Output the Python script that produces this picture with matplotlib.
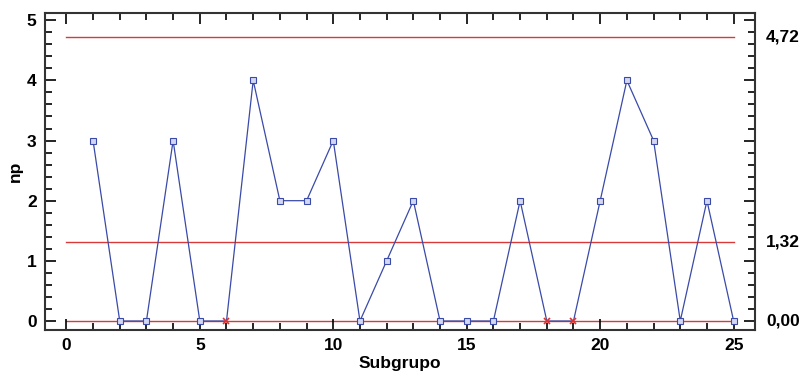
import matplotlib
matplotlib.use("Agg")
import matplotlib.pyplot as plt
from matplotlib.ticker import MultipleLocator

plt.rcParams['font.family'] = ['Liberation Sans', 'DejaVu Sans']

subgroups = list(range(1, 26))
np_values = [3, 0, 0, 3, 0, 0, 4, 2, 2, 3, 0, 1, 2, 0, 0, 0, 2, 0, 0, 2, 4, 3, 0, 2, 0]
flagged = [6, 18, 19]
ucl = 4.72
center = 1.32
lcl = 0.00
limit_labels = ['4,72', '1,32', '0,00']

fig = plt.figure(figsize=(8.02, 3.76), dpi=100)
ax = fig.add_axes([0.0561, 0.1223, 0.8853, 0.8431])

for lim in [ucl, center, lcl]:
    ax.plot([0, 25], [lim, lim], color='#d83a3a', lw=1.0, zorder=1)

ax.plot(subgroups, np_values, color='#3a4aa8', lw=0.9, zorder=2)

normal_x = [s for s in subgroups if s not in flagged]
normal_y = [v for s, v in zip(subgroups, np_values) if s not in flagged]
flag_y = [np_values[s - 1] for s in flagged]
ax.plot(normal_x, normal_y, ls='none', marker='s', ms=3.8, mfc='#d4d7f0',
        mec='#3a4aa8', mew=0.8, zorder=3)
ax.plot(flagged, flag_y, ls='none', marker='x', ms=5, color='#e03030',
        mew=1.2, zorder=3)

ax.set_xlim(-0.8, 25.8)
ax.set_ylim(-0.15, 5.12)
ax.xaxis.set_major_locator(MultipleLocator(5))
ax.xaxis.set_minor_locator(MultipleLocator(1))
ax.yaxis.set_major_locator(MultipleLocator(1))
ax.yaxis.set_minor_locator(MultipleLocator(0.2))
ax.tick_params(which='both', direction='in', top=True, right=True, width=1.2,
               labelsize=12.5, pad=6)
ax.tick_params(which='major', length=8)
ax.tick_params(which='minor', length=5)
for lbl in ax.get_xticklabels() + ax.get_yticklabels():
    lbl.set_fontweight('bold')
for sp in ax.spines.values():
    sp.set_linewidth(1.5)
    sp.set_color('#333333')

ax.set_xlabel('Subgrupo', fontsize=12.5, fontweight='bold', labelpad=2)
ax.set_ylabel('np', fontsize=12.5, fontweight='bold', labelpad=3)

for lim, txt in zip([ucl, center, lcl], limit_labels):
    ax.annotate(txt, xy=(1, lim), xycoords=('axes fraction', 'data'),
                xytext=(8, 0), textcoords='offset points',
                ha='left', va='center', fontsize=12.5, fontweight='bold')

fig.savefig('out.png', dpi=100)
